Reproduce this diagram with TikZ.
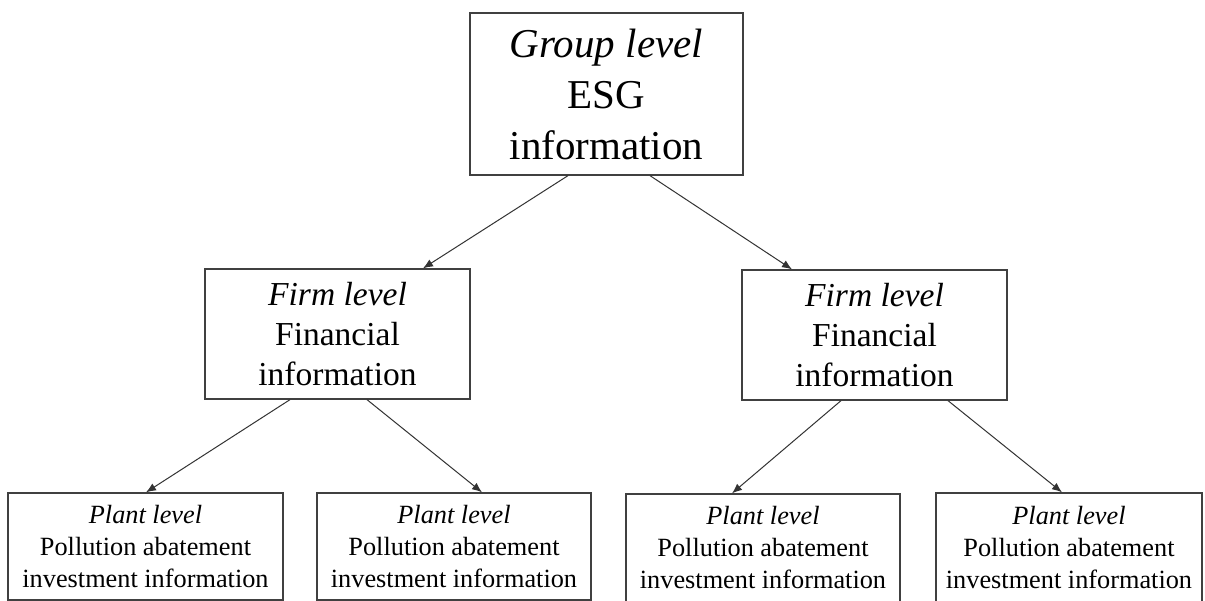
\documentclass[tikz,border=0pt]{standalone}
\usepackage{fontspec}
\setmainfont{Liberation Serif}
\usetikzlibrary{positioning,arrows.meta}

\begin{document}
\begin{tikzpicture}[x=1pt,y=-1pt]
\tikzset{B/.style={rectangle,draw=black!75,line width=1.3pt,inner sep=0pt,align=center,fill=white},
  G/.style={B,minimum width=273pt,minimum height=162pt,font=\fontsize{41}{51}\selectfont},
  F/.style={B,minimum width=265pt,minimum height=130pt,font=\fontsize{33.5}{40}\selectfont},
  P/.style={B,minimum height=107pt,font=\fontsize{26.3}{32}\selectfont},
  A/.style={draw=black!80,line width=1pt,-{Latex[length=10pt,width=8pt]}}}

  \clip (0,0) rectangle (1205,601);
  \fill[white] (0,0) rectangle (1205,601);

  \node[G] (g1) at (606.5,94)  {\textit{Group level}\\ESG\\information};
  \node[F] (f1) at (337.5,334) {\textit{Firm level}\\Financial\\information};
  \node[F] (f2) at (874.5,335) {\textit{Firm level}\\Financial\\information};
  \node[P,minimum width=275pt] (p1) at (145.5,546.5) {\textit{Plant level}\\Pollution abatement\\investment information};
  \node[P,minimum width=274pt] (p2) at (454,546.5)   {\textit{Plant level}\\Pollution abatement\\investment information};
  \node[P,minimum width=274pt,minimum height=108pt] (p3) at (763,548)    {\textit{Plant level}\\Pollution abatement\\investment information};
  \node[P,minimum width=266pt,minimum height=109pt] (p4) at (1069,547.5) {\textit{Plant level}\\Pollution abatement\\investment information};

  \draw[A] ([xshift=-38.5pt]g1.south) -- ([xshift=85.5pt]f1.north);
  \draw[A] ([xshift=43.5pt]g1.south) -- ([xshift=-82.5pt]f2.north);
  \draw[A] ([xshift=-47.5pt]f1.south) -- ([xshift=0.5pt]p1.north);
  \draw[A] ([xshift=29.5pt]f1.south) -- ([xshift=28pt]p2.north);
  \draw[A] ([xshift=-33.5pt]f2.south) -- ([xshift=-31pt]p3.north);
  \draw[A] ([xshift=73.5pt]f2.south) -- ([xshift=-7pt]p4.north);
\end{tikzpicture}
\end{document}
